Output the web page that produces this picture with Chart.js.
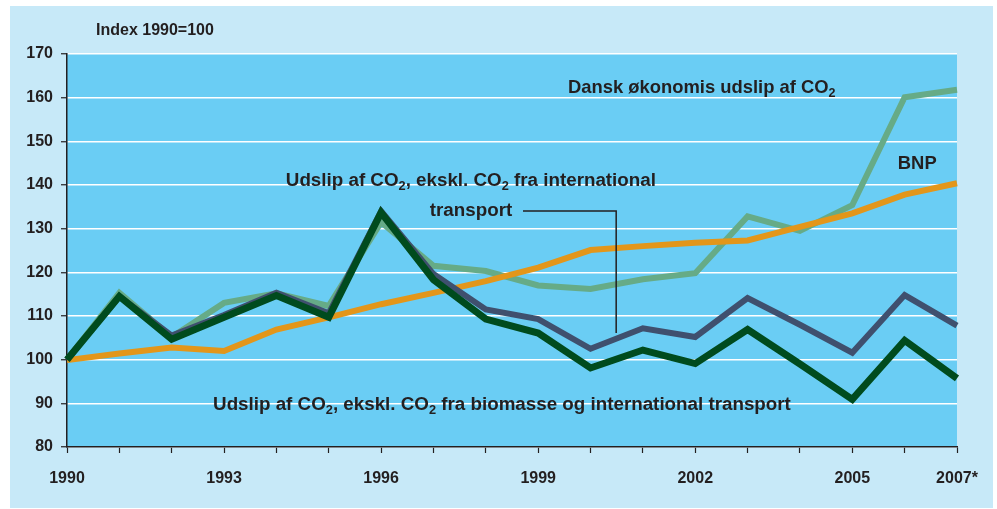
<!DOCTYPE html>
<html>
<head>
<meta charset="utf-8">
<script src="https://cdn.jsdelivr.net/npm/chart.js@4.4.1/dist/chart.umd.min.js"></script>
<style>
  html, body { margin: 0; padding: 0; background: #ffffff; }
  canvas { display: block; }
</style>
</head>
<body>
<canvas id="c" width="997" height="509"></canvas>
<script>
// ---- data ----
const years = ['1990','1991','1992','1993','1994','1995','1996','1997','1998','1999','2000','2001','2002','2003','2004','2005','2006','2007'];
const xTickLabels = ['1990','','','1993','','','1996','','','1999','','','2002','','','2005','','2007*'];
const yTicks = [80, 90, 100, 110, 120, 130, 140, 150, 160, 170];

const danskOekonomi = [100, 115.3, 105.2, 113.0, 115.2, 112.3, 131.5, 121.5, 120.3, 117.0, 116.2, 118.4, 119.8, 132.8, 129.5, 135.4, 160.1, 161.8];
const bnp           = [99.9, 101.4, 102.8, 102.0, 106.9, 109.7, 112.7, 115.3, 118.0, 121.1, 125.1, 126.0, 126.8, 127.3, 130.4, 133.5, 137.8, 140.4];
const eksklTransport = [100, 114.5, 105.5, 110.2, 115.3, 110.6, 134.0, 119.6, 111.5, 109.3, 102.5, 107.2, 105.2, 114.1, 108.0, 101.6, 114.8, 107.8];
const eksklBiomasse  = [100, 114.5, 104.7, 109.7, 114.7, 109.7, 133.7, 118.3, 109.3, 106.1, 98.1, 102.2, 99.1, 106.9, 99.0, 90.9, 104.4, 95.7];

const axisTitle = 'Index 1990=100';
const labelDansk = [['Dansk økonomis udslip af CO', false], ['2', true]];
const labelBNP = [['BNP', false]];
const labelTransport1 = [['Udslip af CO', false], ['2', true], [', ekskl. CO', false], ['2', true], [' fra international', false]];
const labelTransport2 = [['transport', false]];
const labelBiomasse = [['Udslip af CO', false], ['2', true], [', ekskl. CO', false], ['2', true], [' fra biomasse og international transport', false]];

// ---- styles ----
const TEXT = '#231f20';
const FONT = '"Liberation Sans", Arial, sans-serif';

function drawRich(ctx, parts, x, y, size) {
  ctx.save();
  ctx.fillStyle = TEXT;
  ctx.textBaseline = 'middle';
  ctx.textAlign = 'left';
  let cx = x;
  for (const [t, sub] of parts) {
    if (sub) {
      ctx.font = 'bold ' + (size * 0.68).toFixed(1) + 'px ' + FONT;
      ctx.fillText(t, cx, y + size * 0.28);
    } else {
      ctx.font = 'bold ' + size + 'px ' + FONT;
      ctx.fillText(t, cx, y);
    }
    cx += ctx.measureText(t).width;
  }
  ctx.restore();
}

const backgroundPlugin = {
  id: 'bg',
  beforeDraw(chart) {
    const ctx = chart.ctx, a = chart.chartArea;
    ctx.save();
    ctx.fillStyle = '#ffffff';
    ctx.fillRect(0, 0, chart.width, chart.height);
    ctx.fillStyle = '#c7e9f8';
    ctx.fillRect(10, 6, 983, 502);
    ctx.fillStyle = '#6acdf4';
    ctx.fillRect(a.left, a.top, a.right - a.left, a.bottom - a.top);
    ctx.restore();
  }
};

const annotationPlugin = {
  id: 'notes',
  afterDraw(chart, args, opts) {
    const ctx = chart.ctx, xs = chart.scales.x, ys = chart.scales.y;
    const px = v => xs.getPixelForValue(v);
    const py = v => ys.getPixelForValue(v);
    drawRich(ctx, [[axisTitle, false]], 96, 31, 16);
    for (const n of opts.notes) {
      drawRich(ctx, n.parts, px(n.x), py(n.y), n.size);
    }
    const L = opts.leader;
    ctx.save();
    ctx.strokeStyle = TEXT;
    ctx.lineWidth = 1.5;
    ctx.beginPath();
    ctx.moveTo(px(L[0][0]), py(L[0][1]));
    for (let i = 1; i < L.length; i++) ctx.lineTo(px(L[i][0]), py(L[i][1]));
    ctx.stroke();
    ctx.restore();
  }
};

const lineDs = (label, data, color, width) => ({
  label, data, borderColor: color, backgroundColor: color, borderWidth: width,
  pointRadius: 0, tension: 0, fill: false, borderJoinStyle: 'miter', borderCapStyle: 'butt'
});

new Chart(document.getElementById('c'), {
  type: 'line',
  data: {
    labels: years,
    datasets: [
      lineDs('Udslip af CO2, ekskl. CO2 fra biomasse og international transport', eksklBiomasse, '#004b1e', 7),
      lineDs('Udslip af CO2, ekskl. CO2 fra international transport', eksklTransport, '#3f506e', 6),
      lineDs('BNP', bnp, '#e3961a', 6),
      lineDs('Dansk økonomis udslip af CO2', danskOekonomi, '#66ab87', 6)
    ]
  },
  options: {
    responsive: false,
    devicePixelRatio: 1,
    animation: false,
    layout: { padding: { left: 10, right: 40, top: 54, bottom: 10 } },
    plugins: {
      legend: { display: false },
      tooltip: { enabled: false },
      notes: {
        notes: [
          { parts: labelDansk, x: 9.57, y: 162.2, size: 18.4 },
          { parts: labelBNP, x: 15.87, y: 144.8, size: 18.4 },
          { parts: labelTransport1, x: 4.18, y: 140.9, size: 18.8 },
          { parts: labelTransport2, x: 6.93, y: 134.05, size: 18.8 },
          { parts: labelBiomasse, x: 2.79, y: 89.6, size: 18.8 }
        ],
        leader: [[8.71, 134.05], [10.49, 134.05], [10.49, 106.1]]
      }
    },
    scales: {
      x: {
        type: 'category',
        offset: false,
        grid: { drawOnChartArea: false, tickLength: 6, tickColor: TEXT, tickWidth: 1.2 },
        border: { display: true, color: TEXT, width: 1.5 },
        ticks: {
          autoSkip: false, maxRotation: 0, padding: 16, color: TEXT,
          font: { family: FONT, size: 16, weight: 'bold' },
          callback: (v, i) => xTickLabels[i]
        },
        afterFit: s => { s.height = 52; }
      },
      y: {
        min: 80, max: 170,
        afterBuildTicks: s => { s.ticks = yTicks.map(v => ({ value: v })); },
        grid: { color: '#ffffff', lineWidth: 1.5, tickLength: 6, tickColor: TEXT, tickWidth: 1.2 },
        border: { display: true, color: TEXT, width: 1.5 },
        ticks: { padding: 8, color: TEXT, font: { family: FONT, size: 16, weight: 'bold' } },
        afterFit: s => { s.width = 57; }
      }
    }
  },
  plugins: [backgroundPlugin, annotationPlugin]
});
</script>
</body>
</html>
